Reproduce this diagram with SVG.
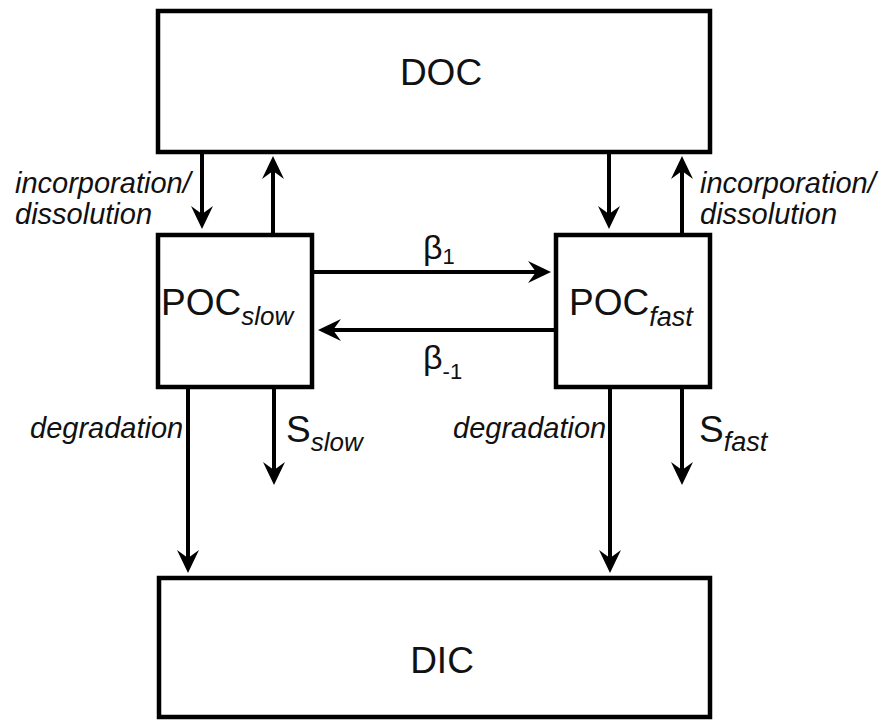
<svg xmlns="http://www.w3.org/2000/svg" width="885" height="721" viewBox="0 0 885 721">
<style>
  .box { fill: #ffffff; stroke: #000000; stroke-width: 4.5; }
  .conn { stroke: #000000; stroke-width: 4; fill: none; marker-end: url(#arrow); }
  .big { font-family: "Liberation Sans", Arial, sans-serif; font-size: 37px; fill: #111; }
  .lbl { font-family: "Liberation Sans", Arial, sans-serif; font-size: 29px; font-style: italic; fill: #111; }
  .sub { font-family: "Liberation Sans", Arial, sans-serif; font-style: italic; fill: #111; }
  .greek { font-family: "Liberation Sans", Arial, sans-serif; font-size: 34px; fill: #111; }
</style>
<defs>
  <marker id="arrow" markerUnits="userSpaceOnUse" markerWidth="24" markerHeight="24" refX="8" refY="11" orient="auto" overflow="visible">
    <path d="M0,0 L23,11 L0,22 L8,11 Z" fill="#000"/>
  </marker>
</defs>
<rect width="885" height="721" fill="#ffffff"/>

<g id="DOC">
  <rect class="box" x="158" y="11" width="552" height="141"/>
  <text class="big" x="441" y="85" text-anchor="middle">DOC</text>
</g>
<g id="POC_slow">
  <rect class="box" x="158" y="235" width="154" height="152"/>
  <text class="big" x="161" y="315">POC<tspan class="sub" font-size="26" y="325">slow</tspan></text>
</g>
<g id="POC_fast">
  <rect class="box" x="556" y="235" width="154" height="152"/>
  <text class="big" x="569" y="315">POC<tspan class="sub" font-size="27" y="326">fast</tspan></text>
</g>
<g id="DIC">
  <rect class="box" x="159" y="578" width="551" height="139"/>
  <text class="big" x="442" y="673" text-anchor="middle">DIC</text>
</g>

<g id="connectors">
  <line class="conn" x1="202" y1="152" x2="202" y2="214"/>
  <line class="conn" x1="273" y1="235" x2="273" y2="171"/>
  <line class="conn" x1="609" y1="152" x2="609" y2="214"/>
  <line class="conn" x1="682" y1="235" x2="682" y2="171"/>
  <line class="conn" x1="312" y1="272" x2="536" y2="272"/>
  <line class="conn" x1="556" y1="330" x2="333" y2="330"/>
  <line class="conn" x1="188" y1="387" x2="188" y2="558"/>
  <line class="conn" x1="274" y1="387" x2="274" y2="470"/>
  <line class="conn" x1="610" y1="387" x2="610" y2="558"/>
  <line class="conn" x1="682" y1="387" x2="682" y2="470"/>
</g>

<g id="labels">
  <text class="lbl" x="15" y="193">incorporation/</text>
  <text class="lbl" x="15" y="224">dissolution</text>
  <text class="lbl" x="700" y="193">incorporation/</text>
  <text class="lbl" x="700" y="224">dissolution</text>
  <text class="greek" x="423" y="259">β<tspan font-size="22" y="264">1</tspan></text>
  <text class="greek" x="423" y="369">β<tspan font-size="22" y="379">-1</tspan></text>
  <text class="lbl" x="30" y="438">degradation</text>
  <text class="lbl" x="453" y="438">degradation</text>
  <text class="big" x="286" y="442">S<tspan class="sub" font-size="26" y="451">slow</tspan></text>
  <text class="big" x="699" y="442">S<tspan class="sub" font-size="27" y="451">fast</tspan></text>
</g>
</svg>
